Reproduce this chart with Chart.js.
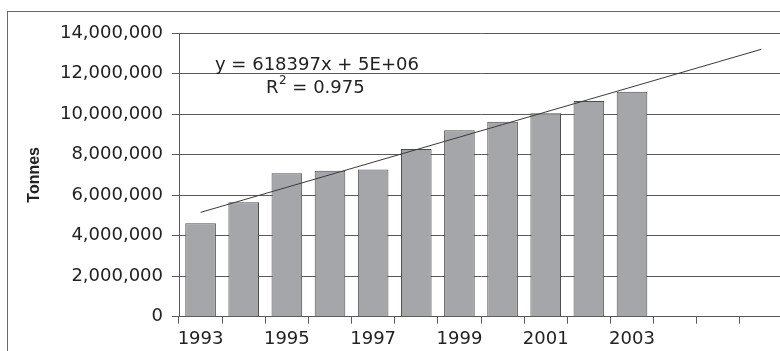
<!DOCTYPE html>
<html>
<head>
<meta charset="utf-8">
<script src="https://cdn.jsdelivr.net/npm/chart.js@4/dist/chart.umd.min.js"></script>
<style>
  html, body { margin: 0; padding: 0; background: #fff; }
  #wrap { position: relative; width: 780px; height: 351px; overflow: hidden; }
  #frame { position: absolute; left: 7px; top: 11px; width: 800px; height: 400px;
           border-left: 1px solid #6a6a6a; border-top: 1px solid #6a6a6a; }
  #holder { position: absolute; left: 0; top: 0; width: 800px; height: 351px; }
</style>
</head>
<body>
<div id="wrap">
  <div id="frame"></div>
  <div id="holder"><canvas id="c" width="800" height="351"></canvas></div>
</div>
<script>
// Annual tonnage, 1993-2003; the axis runs on to 2006 for the trend forecast
const years = ['1993','1994','1995','1996','1997','1998','1999','2000','2001','2002','2003','2004','2005','2006'];
const shownYears = ['1993','1995','1997','1999','2001','2003'];
const tonnes = [4610000, 5650000, 7080000, 7200000, 7260000, 8270000, 9200000, 9620000, 10040000, 10650000, 11100000];
const yTicks = [0, 2000000, 4000000, 6000000, 8000000, 10000000, 12000000, 14000000];
const equationText = 'y = 618397x + 5E+06';
const r2Text = '0.975';

// Least-squares linear trend over x = 1..n, extended across every category
function linearTrend(values, count) {
  const n = values.length;
  let sx = 0, sy = 0, sxx = 0, sxy = 0;
  values.forEach((v, i) => { const x = i + 1; sx += x; sy += v; sxx += x * x; sxy += x * v; });
  const slope = (n * sxy - sx * sy) / (n * sxx - sx * sx);
  const icpt = (sy - slope * sx) / n;
  return Array.from({ length: count }, (_, i) => icpt + slope * (i + 1));
}
const trend = linearTrend(tonnes, years.length);

const FONT = 'DejaVu Sans';
const INK = '#222';
const GRID = '#5a5a5a';

const trendLabel = {
  id: 'trendLabel',
  afterDatasetsDraw(chart) {
    const { ctx, chartArea } = chart;
    ctx.save();
    ctx.font = '18px "' + FONT + '"';
    ctx.fillStyle = INK;
    ctx.textBaseline = 'middle';
    ctx.textAlign = 'left';
    const x0 = chartArea.left + 36;
    ctx.fillText(equationText, x0, 65);
    // R² line sits on a white box, as trendline labels do
    const rx = chartArea.left + 87;
    const rPart = 'R';
    const rest = ' = ' + r2Text;
    const wR = ctx.measureText(rPart).width;
    ctx.font = '12px "' + FONT + '"';
    const wSup = ctx.measureText('2').width;
    ctx.font = '18px "' + FONT + '"';
    const wRest = ctx.measureText(rest).width;
    ctx.fillStyle = '#fff';
    ctx.fillRect(rx - 3, 74.5, wR + wSup + wRest + 6, 25);
    ctx.fillStyle = INK;
    ctx.fillText(rPart, rx, 88);
    ctx.font = '12px "' + FONT + '"';
    ctx.fillText('2', rx + wR + 0.5, 81);
    ctx.font = '18px "' + FONT + '"';
    ctx.fillText(rest, rx + wR + wSup + 0.5, 88);
    ctx.restore();
  }
};

new Chart(document.getElementById('c'), {
  data: {
    labels: years,
    datasets: [
      {
        type: 'line',
        label: 'Linear trend',
        data: trend,
        borderColor: '#3a3a3a',
        borderWidth: 1,
        pointRadius: 0,
        fill: false,
        tension: 0,
        order: 0
      },
      {
        type: 'bar',
        label: 'Tonnes',
        data: tonnes,
        backgroundColor: '#a5a6aa',
        borderColor: '#4c4c4c',
        borderWidth: 1,
        categoryPercentage: 1,
        barPercentage: 0.71,
        order: 1
      }
    ]
  },
  options: {
    responsive: false,
    animation: false,
    events: [],
    layout: { padding: { left: 0, top: 33, right: 17, bottom: 0 } },
    plugins: { legend: { display: false }, tooltip: { enabled: false } },
    scales: {
      x: {
        type: 'category',
        offset: true,
        grid: { offset: true, drawOnChartArea: false, drawTicks: true, tickLength: 7, color: GRID, lineWidth: 1 },
        border: { display: true, color: GRID, width: 1 },
        ticks: {
          autoSkip: false,
          maxRotation: 0,
          padding: 5,
          color: INK,
          font: { family: FONT, size: 18 },
          callback(value) {
            const lab = this.getLabelForValue(value);
            return shownYears.includes(lab) ? lab : '';
          }
        },
        afterFit(scale) { scale.height = 34.3; }
      },
      y: {
        min: 0,
        max: 14000000,
        afterBuildTicks(scale) { scale.ticks = yTicks.map(v => ({ value: v })); },
        grid: { drawTicks: true, tickLength: 7, color: GRID, lineWidth: 1 },
        border: { display: true, color: GRID, width: 1 },
        ticks: {
          padding: 9,
          color: INK,
          font: { family: FONT, size: 18 },
          callback(v) { return Number(v).toLocaleString('en-US'); }
        },
        title: {
          display: true,
          text: 'Tonnes',
          color: INK,
          font: { family: 'Liberation Sans', size: 16, weight: 'bold' },
          padding: { top: 25, bottom: 0 }
        },
        afterFit(scale) { scale.width = 179; }
      }
    }
  },
  plugins: [trendLabel]
});
</script>
</body>
</html>
